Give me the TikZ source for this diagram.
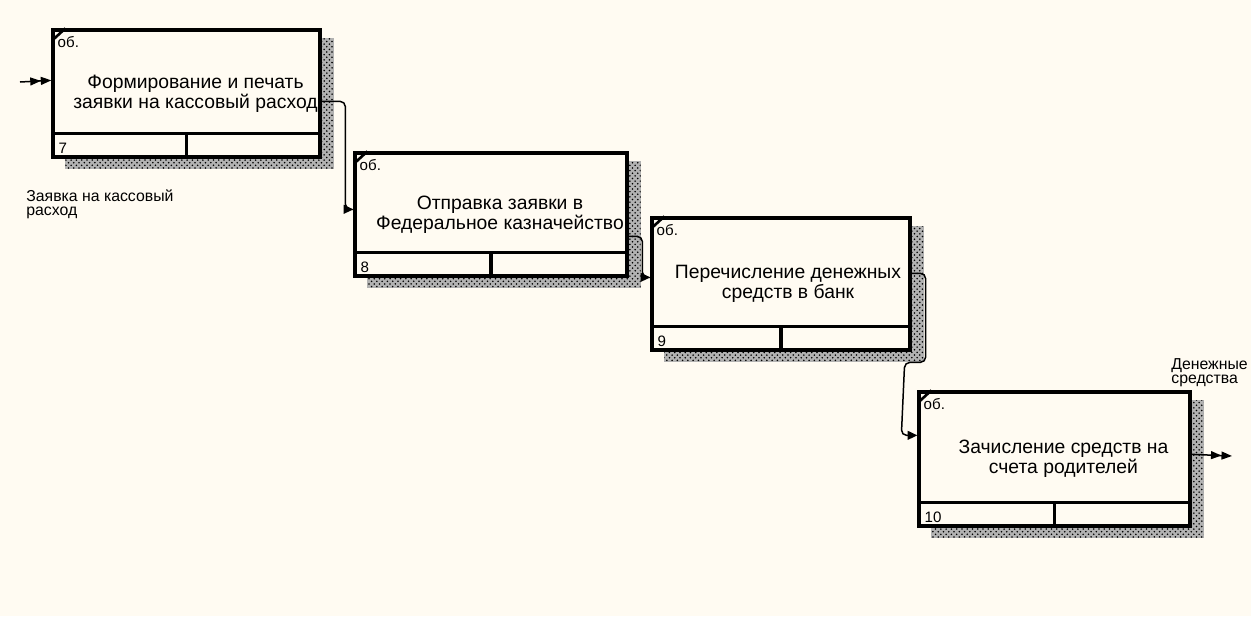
\documentclass[tikz,border=0pt]{standalone}
\usepackage{fontspec}
\setmainfont{Liberation Sans}
\usetikzlibrary{arrows.meta, positioning, calc, patterns, backgrounds}

\definecolor{paper}{RGB}{255,251,242}

\tikzset{
  actbox/.style={draw, line width=1.9pt, fill=paper, inner sep=0pt},
  boxtext/.style={align=center, inner sep=0pt, font=\fontsize{11}{11.5}\selectfont},
  smalltext/.style={inner sep=0pt, font=\fontsize{8.6}{8.8}\selectfont},
  arrowlabel/.style={align=left, inner sep=0pt, font=\fontsize{9}{8.2}\selectfont},
  divider/.style={line width=1.9pt},
  flow/.style={line width=0.85pt, -{Triangle[length=5.5pt,width=5pt]}},
  flowtwo/.style={line width=0.85pt, -{Triangle[length=6pt,width=4.5pt] Triangle[length=6pt,width=4.5pt]}},
  shadowfill/.style={fill=gray!60, postaction={pattern=crosshatch dots, pattern color=black}}
}

\begin{document}
\begin{tikzpicture}[x=0.02cm, y=-0.02cm]
  \useasboundingbox (0,0) rectangle (1251,616);

  % activity boxes
  \node[actbox, minimum width=5.34cm, minimum height=2.54cm] (f1) at (186.5,93.5) {};
  \node[actbox, minimum width=5.44cm, minimum height=2.46cm] (f2) at (491,214.5) {};
  \node[actbox, minimum width=5.16cm, minimum height=2.64cm] (f3) at (781,284) {};
  \node[actbox, minimum width=5.42cm, minimum height=2.68cm] (f4) at (1054.5,459) {};

  \node[boxtext] (t1) at ($(f1.center)+(9,0)$) {Формирование и печать\\заявки на кассовый расход};
  \node[boxtext] (t2) at ($(f2.center)+(9,0)$) {Отправка заявки в\\Федеральное казначейство};
  \node[boxtext] (t3) at ($(f3.center)+(7,0)$) {Перечисление денежных\\средств в банк};
  \node[boxtext] (t4) at ($(f4.center)+(9,0)$) {Зачисление средств на\\счета родителей};

  % bottom compartments, corner marks, numbers
  \foreach \b/\n in {f1/7, f2/8, f3/9, f4/10} {
    \draw[divider] ($(\b.south west)+(0,-25)$) -- ($(\b.south east)+(0,-25)$);
    \draw[divider] ($(\b.south)+(0,-25)$) -- (\b.south);
    \draw[line width=1.5pt] ($(\b.north west)+(1,12)$) -- ($(\b.north west)+(14,0)$);
    \node[smalltext, anchor=north west] (ob\b) at ($(\b.north west)+(6,8)$) {об.};
    \node[smalltext, anchor=base west] (num\b) at ($(\b.south west)+(7,-5)$) {\n};
  }

  % shadows
  \begin{scope}[on background layer]
    \fill[paper] (0,0) rectangle (1251,616);
    \foreach \b in {f1,f2,f3,f4}
      \fill[shadowfill] ($(\b.north west)+(14,10)$) rectangle ($(\b.south east)+(12,10)$);
  \end{scope}

  % arrows
  \coordinate (src) at (20,82);
  \coordinate (dst) at (1232,456);
  \draw[flowtwo] (src) -- ($(f1.north west)+(0,52)$);
  \draw[flow] ($(f1.north east)+(0,73)$) [rounded corners=3pt] -| ($(f2.north west)+(-8,58)$)
    [sharp corners] -- ($(f2.north west)+(0,58)$);
  \draw[flow] ($(f2.north east)+(0,85)$) [rounded corners=3pt] -| ($(f3.north west)+(-8,61)$)
    [sharp corners] -- ($(f3.north west)+(0,61)$);
  \draw[flow] ($(f3.north east)+(0,57)$) [rounded corners=3pt] -- ++(14,0) -- ++(0,89) -- ++(-21,0)
    -- ($(f4.north west)+(-16,45)$) [sharp corners] -- ($(f4.north west)+(0,45)$);
  \draw[flowtwo] ($(f4.north east)+(0,64)$) -- (dst);

  \node[arrowlabel, anchor=north west] (lin) at (26,189) {Заявка на кассовый\\расход};
  \node[arrowlabel, anchor=north west] (lout) at (1171,358) {Денежные\\средства};
\end{tikzpicture}
\end{document}
